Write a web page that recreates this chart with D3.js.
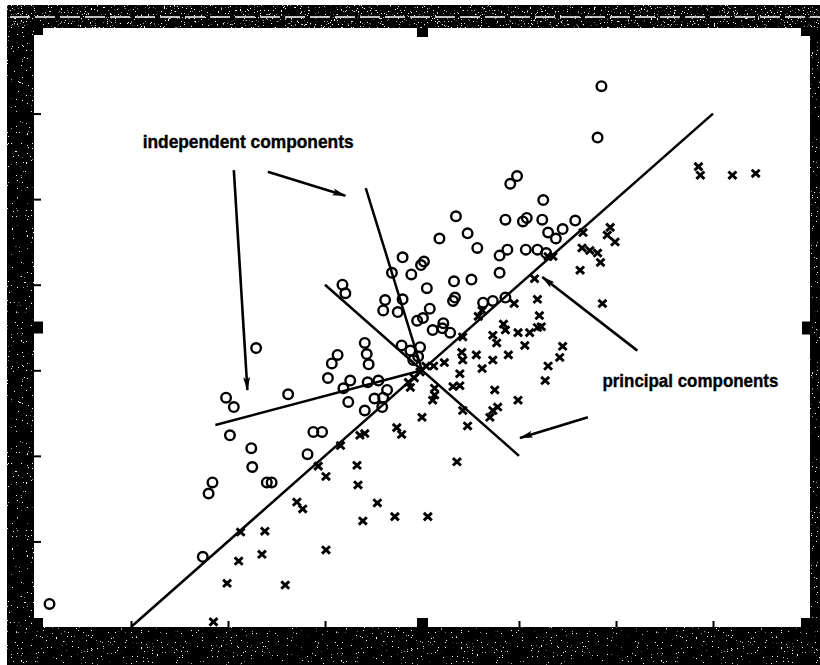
<!DOCTYPE html>
<html>
<head>
<meta charset="utf-8">
<script src="https://cdn.jsdelivr.net/npm/d3@7/dist/d3.min.js"></script>
<style>
  html, body { margin: 0; padding: 0; background: #fff; }
  svg { display: block; }
</style>
</head>
<body>
<div id="chart"></div>
<script>
// Two classes of 2-D observations: class A drawn as circles, class B as crosses
const classA = [
  [1.85, 3.32], [1.81, 2.72], [0.98, 2.27], [0.91, 2.18], [1.25, 1.99],
  [0.35, 1.80], [0.86, 1.76], [1.08, 1.78], [1.04, 1.74], [1.24, 1.76],
  [1.58, 1.75], [0.18, 1.54], [0.47, 1.60], [0.57, 1.43], [1.30, 1.61],
  [1.45, 1.65], [1.38, 1.54], [-0.20, 1.32], [0.02, 1.27], [-0.01, 1.23],
  [-0.11, 1.12], [-0.31, 1.14], [0.88, 1.41], [0.80, 1.34], [1.07, 1.41],
  [1.19, 1.41], [1.28, 1.37], [0.80, 1.14], [0.05, 0.96], [0.33, 1.04],
  [0.51, 1.06], [0.34, 0.85], [0.32, 0.81], [0.08, 0.72], [-0.20, 0.83],
  [-0.38, 0.82], [-0.40, 0.70], [-0.25, 0.68], [0.63, 0.79], [0.73, 0.81],
  [0.86, 0.85], [-0.82, 1.00], [-0.79, 0.90], [-0.21, 0.29], [-0.59, 0.32],
  [-0.57, 0.19], [-0.55, 0.07], [-0.87, 0.18], [-0.93, 0.08], [-0.97, -0.09],
  [-0.74, -0.12], [-0.81, -0.21], [-0.56, -0.14], [-0.45, -0.12], [-0.36, -0.23],
  [-0.40, -0.32], [-0.76, -0.37], [-0.59, -0.47], [-0.49, -0.33], [-0.41, -0.43],
  [-1.71, 0.26], [-2.02, -0.32], [-1.94, -0.43], [-1.38, -0.28], [-1.98, -0.76],
  [-1.76, -0.91], [-1.75, -1.13], [-2.16, -1.31], [-2.20, -1.44], [-1.60, -1.31],
  [-1.55, -1.31], [-1.18, -0.98], [-1.12, -0.72], [-1.03, -0.72], [-2.26, -2.18],
  [-3.84, -2.73], [0.01, 0.61], [-0.05, 0.58], [0.22, 0.55], [0.21, 0.49],
  [0.29, 0.44], [0.11, 0.47], [-0.02, 0.27], [-0.12, 0.23], [-0.09, 0.12],
  [-0.04, 0.16]
];

const classB = [
  [2.85, 2.38], [2.87, 2.28], [3.20, 2.28], [3.44, 2.30], [1.94, 1.67],
  [1.91, 1.58], [1.99, 1.50], [1.66, 1.61], [1.65, 1.43], [1.73, 1.40],
  [1.81, 1.37], [1.84, 1.26], [1.63, 1.17], [1.86, 0.78], [1.16, 1.07],
  [1.19, 0.83], [0.95, 0.78], [1.21, 0.64], [1.19, 0.50], [1.11, 0.44],
  [0.99, 0.44], [1.23, 0.51], [0.84, 0.54], [0.86, 0.47], [0.73, 0.41],
  [0.77, 0.32], [1.06, 0.29], [1.45, 0.28], [1.42, 0.15], [1.30, 0.05],
  [1.27, -0.12], [0.89, 0.18], [0.73, 0.12], [0.62, 0.02], [0.42, 0.39],
  [0.41, 0.21], [0.56, 0.18], [0.42, 0.12], [0.23, 0.09], [0.12, 0.05],
  [0.39, -0.04], [0.32, -0.19], [0.39, -0.18], [0.75, -0.23], [0.73, -0.47],
  [0.78, -0.43], [0.99, -0.35], [0.00, -0.55], [0.11, -0.35], [0.13, -0.21],
  [0.13, -0.29], [0.42, -0.47], [0.47, -0.65], [0.70, -0.55], [-0.26, -0.67],
  [-0.21, -0.75], [0.36, -1.07], [-0.12, -0.20], [-0.59, -0.74], [-0.64, -0.76],
  [-0.84, -0.88], [-1.07, -1.12], [-0.99, -1.24], [-0.67, -1.11], [-0.66, -1.34],
  [-0.46, -1.55], [-0.28, -1.71], [0.06, -1.71], [-0.61, -1.76], [-1.29, -1.54],
  [-1.23, -1.62], [-1.62, -1.88], [-1.87, -1.89], [-1.65, -2.15], [-1.89, -2.23],
  [-0.99, -2.10], [-2.01, -2.49], [-1.41, -2.51], [-2.15, -2.94], [0.62, 0.70],
  [0.58, 0.63], [1.30, 1.33], [1.35, 1.33], [-0.02, -0.02], [-0.08, -0.09],
  [0.04, 0.05], [-0.14, -0.14]
];

// Component directions, drawn as segments (start and end points)
const principalAxes = [
  [[-3, -3], [3, 3]],
  [[-1, 1], [1, -1]]
];
const independentAxes = [
  [[-2.13, -0.64], [0, 0]],
  [[-0.58, 2.13], [0, 0]]
];

// Annotation arrows: tail -> head
const arrows = [
  [[-1.94, 2.34], [-1.80, -0.23]],
  [[-1.59, 2.32], [-0.79, 2.04]],
  [[2.22, 0.23], [1.24, 1.09]],
  [[1.71, -0.55], [1.01, -0.79]]
];

const labels = [
  { text: "independent components", at: [-2.88, 2.60], len: 211 },
  { text: "principal components", at: [1.86, -0.195], len: 176 }
];

const xDomain = [-4, 4];
const yDomain = [-3, 4];
const xTicks = [-3, -2, -1, 0, 1, 2, 3];
const yTicks = [-2, -1, 0, 1, 2, 3];

const W = 820, H = 665;
const plot = { left: 34, right: 810, top: 28, bottom: 627 };

const svg = d3.select("#chart").append("svg")
  .attr("width", W).attr("height", H)
  .attr("viewBox", `0 0 ${W} ${H}`);

const defs = svg.append("defs");

// speckled grain for the dark frame
function grain(id, gain, offset, freq, seed) {
  const f = defs.append("filter").attr("id", id)
    .attr("x", 0).attr("y", 0).attr("width", 1).attr("height", 1);
  f.append("feTurbulence").attr("type", "fractalNoise")
    .attr("baseFrequency", freq).attr("numOctaves", 2).attr("seed", seed);
  f.append("feColorMatrix").attr("type", "matrix")
    .attr("values", `0 0 0 0 1  0 0 0 0 1  0 0 0 0 1  ${gain} 0 0 0 ${offset}`);
}
grain("speckSparse", 24, -17.2, 0.8, 4);
grain("speckDense", 14, -9.2, 0.7, 9);

defs.append("marker")
  .attr("id", "head")
  .attr("viewBox", "0 0 14 8")
  .attr("refX", 13).attr("refY", 4)
  .attr("markerWidth", 14).attr("markerHeight", 8)
  .attr("markerUnits", "userSpaceOnUse")
  .attr("orient", "auto")
  .append("path")
  .attr("d", "M0,0.5 L14,4 L0,7.5 L3,4 Z")
  .attr("fill", "#000");

const x = d3.scaleLinear().domain(xDomain).range([plot.left, plot.right]);
const y = d3.scaleLinear().domain(yDomain).range([plot.bottom, plot.top]);

// frame
svg.append("rect").attr("width", W).attr("height", H).attr("fill", "#fff");
const frame = svg.append("g").attr("class", "frame");
const bands = [
  { x: 7, y: 5, w: W - 7, h: plot.top - 5, dense: true },
  { x: 7, y: 5, w: plot.left - 7, h: H - 5, dense: false },
  { x: 7, y: plot.bottom, w: W - 7, h: H - plot.bottom, dense: false },
  { x: plot.right, y: 5, w: W - plot.right, h: H - 5, dense: false }
];
frame.selectAll("rect.band").data(bands).join("rect")
  .attr("class", "band")
  .attr("x", d => d.x).attr("y", d => d.y)
  .attr("width", d => d.w).attr("height", d => d.h)
  .attr("fill", "#000");
frame.selectAll("rect.grain").data(bands).join("rect")
  .attr("class", "grain")
  .attr("x", d => d.x).attr("y", d => d.y)
  .attr("width", d => d.w).attr("height", d => d.h)
  .attr("fill", "#fff")
  .attr("filter", d => d.dense ? "url(#speckDense)" : "url(#speckSparse)");
// scalloped lower edge of the top band
frame.append("line")
  .attr("x1", 10).attr("x2", W).attr("y1", 17).attr("y2", 17)
  .attr("stroke", "#fff").attr("stroke-width", 1.6)
  .attr("stroke-dasharray", "20 5");

// axes: inward ticks, no labels
svg.append("g")
  .attr("transform", `translate(${plot.left},0)`)
  .call(d3.axisLeft(y).tickValues(yTicks).tickSize(-7).tickFormat(""))
  .call(g => g.select(".domain").remove())
  .call(g => g.selectAll("line").attr("stroke", "#000").attr("stroke-width", 2));
svg.append("g")
  .attr("transform", `translate(0,${plot.bottom})`)
  .call(d3.axisBottom(x).tickValues(xTicks).tickSize(-6).tickFormat(""))
  .call(g => g.select(".domain").remove())
  .call(g => g.selectAll("line").attr("stroke", "#000").attr("stroke-width", 2));

// corner and mid-edge blocks of the frame
const xMid = x((xDomain[0] + xDomain[1]) / 2);
const yMid = y((yDomain[0] + yDomain[1]) / 2);
const blocks = [
  [plot.left, plot.top, 9, 7], [plot.right - 9, plot.top, 9, 8],
  [plot.left, plot.bottom - 9, 9, 9], [plot.right - 9, plot.bottom - 9, 9, 9],
  [xMid - 5, plot.top, 11, 9], [xMid - 5, plot.bottom - 9, 11, 9],
  [plot.left, yMid - 6, 9, 12], [plot.right - 8, yMid - 6, 8, 13]
];
svg.append("g").selectAll("rect").data(blocks).join("rect")
  .attr("x", d => d[0]).attr("y", d => d[1])
  .attr("width", d => d[2]).attr("height", d => d[3])
  .attr("fill", "#000");

const plotG = svg.append("g");

// component lines
const seg = d => `M${x(d[0][0])},${y(d[0][1])}L${x(d[1][0])},${y(d[1][1])}`;
plotG.selectAll("path.pc").data(principalAxes).join("path")
  .attr("class", "pc").attr("d", seg)
  .attr("stroke", "#000").attr("stroke-width", 2.5).attr("fill", "none");
plotG.selectAll("path.ic").data(independentAxes).join("path")
  .attr("class", "ic").attr("d", seg)
  .attr("stroke", "#000").attr("stroke-width", 2.5).attr("fill", "none");

// markers
plotG.selectAll("circle.a").data(classA).join("circle")
  .attr("class", "a")
  .attr("cx", d => x(d[0])).attr("cy", d => y(d[1]))
  .attr("r", 4.8)
  .attr("fill", "none").attr("stroke", "#000").attr("stroke-width", 2.4);
plotG.selectAll("path.b").data(classB).join("path")
  .attr("class", "b")
  .attr("transform", d => `translate(${x(d[0])},${y(d[1])})`)
  .attr("d", "M-4,-3.7L4,3.7M-4,3.7L4,-3.7")
  .attr("stroke", "#000").attr("stroke-width", 2.9).attr("fill", "none");

// annotations
plotG.selectAll("path.arrow").data(arrows).join("path")
  .attr("class", "arrow").attr("d", seg)
  .attr("stroke", "#000").attr("stroke-width", 2.6).attr("fill", "none")
  .attr("marker-end", "url(#head)");

plotG.selectAll("text.label").data(labels).join("text")
  .attr("class", "label")
  .attr("x", d => x(d.at[0])).attr("y", d => y(d.at[1]))
  .attr("textLength", d => d.len)
  .attr("lengthAdjust", "spacingAndGlyphs")
  .attr("font-family", "'Liberation Sans', Arial, Helvetica, sans-serif")
  .attr("font-weight", "bold")
  .attr("font-size", 19)
  .attr("stroke", "#000").attr("stroke-width", 0.4)
  .attr("fill", "#000")
  .text(d => d.text);
</script>
</body>
</html>
